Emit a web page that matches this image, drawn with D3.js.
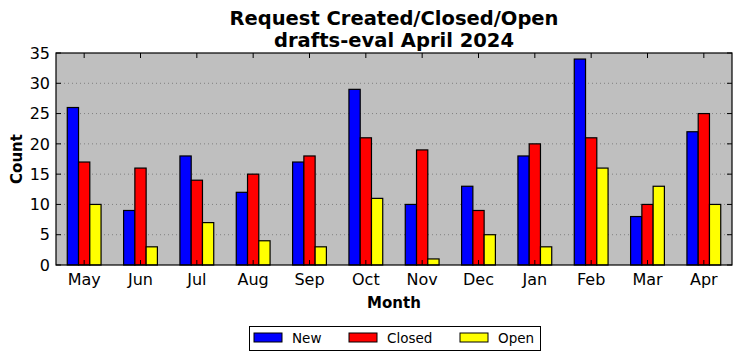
<!DOCTYPE html>
<html><head><meta charset="utf-8">
<script src="https://cdn.jsdelivr.net/npm/d3@7"></script>
<style>body{margin:0;background:#fff;} text{font-family:"DejaVu Sans",sans-serif;}</style>
</head><body>
<svg id="c" width="742" height="361"></svg>
<script>
const months = ["May","Jun","Jul","Aug","Sep","Oct","Nov","Dec","Jan","Feb","Mar","Apr"];
const seriesNames = ["New","Closed","Open"];
const seriesColors = ["#0000ff","#ff0000","#ffff00"];
const newVals = [26,9,18,12,17,29,10,13,18,34,8,22];
const closedVals = [17,16,14,15,18,21,19,9,20,21,10,25];
const openVals = [10,3,7,4,3,11,1,5,3,16,13,10];
const yTicks = [0,5,10,15,20,25,30,35];
const series = [newVals, closedVals, openVals];

const svg = d3.select("#c");
const L=56, R=732, T=53, B=265;
const x = d3.scaleBand().domain(months).range([L,R]).paddingInner(0).paddingOuter(0);
const y = d3.scaleLinear().domain([0,35]).range([B,T]);
const bw = x.bandwidth()*0.2;

svg.append("rect").attr("x",L).attr("y",T).attr("width",R-L).attr("height",B-T).attr("fill","#bfbfbf");
// grid
svg.append("g").selectAll("line").data(yTicks.slice(1,-1)).join("line")
  .attr("x1",L).attr("x2",R).attr("y1",d=>y(d)).attr("y2",d=>y(d))
  .attr("stroke","#808080").attr("stroke-width",1).attr("stroke-dasharray","1,3");
// bars
series.forEach((vals,si)=>{
  svg.append("g").selectAll("rect").data(vals).join("rect")
    .attr("x",(d,i)=>x(months[i])+x.bandwidth()/2+(si-1.5)*bw)
    .attr("y",d=>y(d)).attr("width",bw).attr("height",d=>B-y(d))
    .attr("fill",seriesColors[si]).attr("stroke","#000").attr("stroke-width",1.2);
});
// axis ticks
const tg = svg.append("g").attr("stroke","#000").attr("stroke-width",1);
yTicks.forEach(t=>{
  tg.append("line").attr("x1",L).attr("x2",L+5).attr("y1",y(t)).attr("y2",y(t));
  tg.append("line").attr("x1",R-5).attr("x2",R).attr("y1",y(t)).attr("y2",y(t));
});
months.forEach(m=>{
  const cx = x(m)+x.bandwidth()/2;
  tg.append("line").attr("x1",cx).attr("x2",cx).attr("y1",T).attr("y2",T+5);
  tg.append("line").attr("x1",cx).attr("x2",cx).attr("y1",B-5).attr("y2",B);
});
svg.append("rect").attr("x",L).attr("y",T).attr("width",R-L).attr("height",B-T).attr("fill","none").attr("stroke","#000").attr("stroke-width",1.2);
// tick labels
svg.append("g").selectAll("text").data(yTicks).join("text")
  .attr("x",L-6).attr("y",d=>y(d)).attr("dy","0.36em").attr("text-anchor","end")
  .attr("font-size",16).text(d=>d);
svg.append("g").selectAll("text").data(months).join("text")
  .attr("x",d=>x(d)+x.bandwidth()/2).attr("y",B+20).attr("text-anchor","middle")
  .attr("font-size",16).text(d=>d);
// titles
svg.append("text").attr("x",(L+R)/2).attr("y",25).attr("text-anchor","middle").attr("font-size",19.5).attr("font-weight","bold").text("Request Created/Closed/Open");
svg.append("text").attr("x",(L+R)/2).attr("y",47).attr("text-anchor","middle").attr("font-size",19.5).attr("font-weight","bold").text("drafts-eval April 2024");
svg.append("text").attr("x",(L+R)/2).attr("y",308).attr("text-anchor","middle").attr("font-size",15).attr("font-weight","bold").text("Month");
svg.append("text").attr("transform",`translate(22,${(T+B)/2}) rotate(-90)`).attr("text-anchor","middle").attr("font-size",15).attr("font-weight","bold").text("Count");
// legend
const lg = svg.append("g");
lg.append("rect").attr("x",249.5).attr("y",326.5).attr("width",291).attr("height",24).attr("fill","#fff").attr("stroke","#000").attr("stroke-width",1);
const lx = [254,349,460];
seriesNames.forEach((n,i)=>{
  lg.append("rect").attr("x",lx[i]).attr("y",333).attr("width",28).attr("height",9).attr("fill",seriesColors[i]).attr("stroke","#000").attr("stroke-width",1);
  lg.append("text").attr("x",lx[i]+38).attr("y",343).attr("font-size",13.5).text(n);
});
</script>
</body></html>
